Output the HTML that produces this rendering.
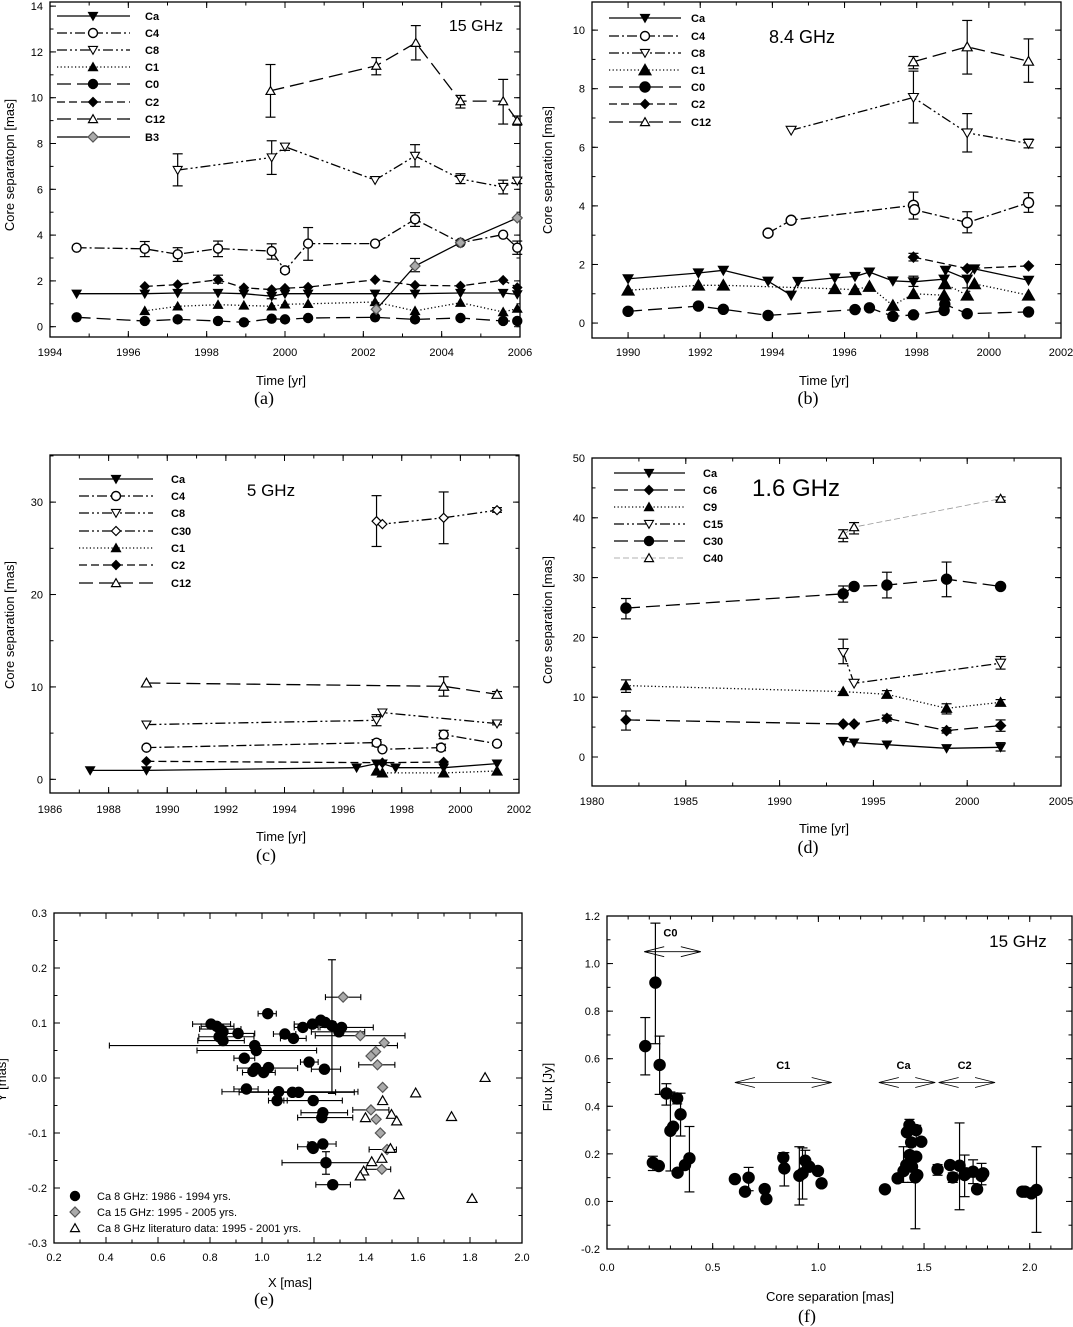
<!DOCTYPE html>
<html><head><meta charset="utf-8">
<style>
html,body{margin:0;padding:0;background:#fff;}
svg{display:block;font-family:"Liberation Sans",Arial,sans-serif;}
.tl{font-size:11px;fill:#000;}
.at{font-size:13px;fill:#000;}
.pl{font-family:"Liberation Serif",serif;font-size:18px;fill:#000;}
.lg{font-size:11px;font-weight:bold;fill:#000;}
</style></head>
<body>
<svg id="fig" width="1073" height="1327" viewBox="0 0 1073 1327">
<rect width="1073" height="1327" fill="#fff"/>
</svg>
<script>
// ---------- Panel (a) 15 GHz ----------
const aCa=[[1994.68,1.44],[1996.42,1.44],[1997.26,1.47],[1998.29,1.47],[1998.95,1.44],[1999.66,1.33,1.22,1.5],[2000.0,1.44],[2000.59,1.44],[2002.30,1.44],[2003.32,1.44],[2004.48,1.47],[2005.57,1.47],[2005.93,1.41]];
const aC4=[[1994.68,3.45],[1996.42,3.4,3.06,3.72],[1997.26,3.16,2.85,3.45],[1998.29,3.41,3.06,3.74],[1999.66,3.3,2.95,3.62],[2000.0,2.46,2.38,2.55],[2000.59,3.63,2.9,4.33],[2002.30,3.63],[2003.32,4.69,4.38,4.98],[2004.48,3.67],[2005.57,4.02],[2005.93,3.45,3.16,3.74]];
const aC8=[[1997.26,6.84,6.15,7.55],[1999.66,7.39,6.65,8.12],[2000.0,7.86,7.7,8.0],[2002.30,6.4],[2003.32,7.46,6.98,7.95],[2004.48,6.45,6.25,6.68],[2005.57,6.1,5.8,6.4],[2005.93,6.37,6.25,6.48]];
const aC1=[[1996.42,0.69],[1997.26,0.89],[1998.29,0.96],[1998.95,0.93],[1999.66,0.89],[2000.0,0.98],[2000.59,1.0],[2002.30,1.08],[2003.32,0.69],[2004.48,1.05],[2005.57,0.64],[2005.93,0.79]];
const aC0=[[1994.68,0.41],[1996.42,0.25],[1997.26,0.32],[1998.29,0.25],[1998.95,0.19],[1999.66,0.35],[2000.0,0.32],[2000.59,0.38],[2002.30,0.41],[2003.32,0.32],[2004.48,0.38],[2005.57,0.25],[2005.93,0.25]];
const aC2=[[1996.42,1.76],[1997.26,1.84],[1998.29,2.05,1.9,2.25],[1998.95,1.7],[1999.66,1.62],[2000.0,1.68],[2000.59,1.73],[2002.30,2.05],[2003.32,1.81],[2004.48,1.78],[2005.57,2.03],[2005.93,1.71]];
const aC12=[[1999.63,10.3,9.15,11.45],[2002.33,11.4,11.0,11.75],[2003.34,12.4,11.65,13.15],[2004.48,9.85,9.55,10.1],[2005.57,9.85,8.85,10.8],[2005.93,9.0,8.8,9.2]];
const aB3=[[2002.33,0.76],[2003.32,2.65,2.4,2.98],[2004.48,3.67],[2005.93,4.75]];
// ---------- Panel (b) 8.4 GHz ----------
const bCa=[[1990.0,1.51],[1991.95,1.71],[1992.64,1.8],[1993.88,1.43],[1994.52,0.95],[1994.71,1.42],[1995.73,1.54],[1996.29,1.59],[1996.69,1.74],[1997.34,1.44],[1997.91,1.41,1.25,1.6],[1998.76,1.5],[1998.8,1.8],[1999.4,1.5,1.2,1.6],[1999.6,1.85],[2001.1,1.46]];
const bC4=[[1993.88,3.07,2.98,3.15],[1994.52,3.51],[1997.91,4.02,3.55,4.47],[1997.94,3.87],[1999.4,3.43,3.08,3.8],[2001.1,4.11,3.78,4.45]];
const bC8=[[1994.52,6.58],[1997.91,7.7,6.83,8.6],[1999.4,6.49,5.84,7.15],[2001.1,6.13,5.98,6.28]];
const bC1=[[1990.0,1.12],[1991.95,1.29],[1992.64,1.29],[1995.73,1.17],[1996.29,1.14],[1996.69,1.25],[1997.34,0.6],[1997.91,1.0],[1998.76,0.95],[1998.78,1.34],[1999.4,0.95],[1999.6,1.34],[2001.1,0.95]];
const bC0=[[1990.0,0.4],[1991.95,0.58],[1992.64,0.47],[1993.88,0.26],[1996.29,0.46],[1996.69,0.52],[1997.34,0.23],[1997.91,0.28],[1998.76,0.43],[1998.78,0.64],[1999.4,0.32],[2001.1,0.38]];
const bC2=[[1997.91,2.25,2.12,2.38],[1999.4,1.86],[2001.1,1.95]];
const bC12=[[1997.91,8.92,8.68,9.1],[1999.4,9.43,8.5,10.33],[2001.1,8.94,8.22,9.7]];
// ---------- Panel (c) 5 GHz ----------
const cCa=[[1987.37,0.97],[1989.29,0.97],[1996.46,1.26],[1997.14,1.7],[1997.34,1.7],[1997.79,1.26],[1999.43,1.26],[2001.25,1.7]];
const cC4=[[1989.29,3.43],[1997.14,3.97,3.6,4.3],[1997.34,3.25],[1999.34,3.43,3.1,3.8],[1999.43,4.84,4.4,5.3],[2001.25,3.86,3.7,4.0]];
const cC8=[[1989.29,5.92],[1997.14,6.39,5.8,7.0],[1997.34,7.22],[2001.25,6.03,5.9,6.2]];
const cC30=[[1997.14,27.94,25.2,30.7],[1997.34,27.62],[1999.43,28.3,25.5,31.1],[2001.25,29.13,28.9,29.4]];
const cC1=[[1997.14,0.9],[1997.34,0.69],[1999.43,0.69],[2001.25,0.9]];
const cC2=[[1989.29,1.95],[1997.34,1.8],[1999.43,1.88]];
const cC12=[[1989.29,10.43],[1999.43,10.07,9.0,11.1],[2001.25,9.2,8.9,9.5]];
// ---------- Panel (d) 1.6 GHz ----------
const dCa=[[1993.39,2.68],[1993.97,2.4],[1995.72,2.06],[1998.9,1.45],[2001.78,1.62,1.0,2.4]];
const dC6=[[1981.81,6.2,4.5,7.7],[1993.39,5.52],[1993.97,5.52],[1995.72,6.47,6.0,7.0],[1998.9,4.41,4.0,4.9],[2001.78,5.25,4.3,6.2]];
const dC9=[[1981.81,11.94,10.8,12.9],[1993.39,10.94],[1995.72,10.49,9.9,11.1],[1998.9,8.15,7.2,8.9],[2001.78,9.15,8.7,9.6]];
const dC15=[[1993.39,17.47,15.6,19.7],[1993.97,12.33],[2001.78,15.68,14.7,16.8]];
const dC30=[[1981.81,24.9,23.1,26.5],[1993.39,27.29,25.9,28.6],[1993.97,28.52],[1995.72,28.74,26.6,30.9],[1998.9,29.74,26.8,32.6],[2001.78,28.52,28.2,28.8]];
const dC40=[[1993.39,37.17,36.0,38.0],[1993.97,38.45,37.3,39.2],[2001.78,43.2,42.9,43.5]];
// ---------- Panel (e) X/Y positions: [x, y, xlo, xhi] ----------
const eBlack=[[0.804,0.098,0.733,0.879],[0.826,0.094,0.766,0.892],[0.839,0.089,0.760,0.919],[0.85,0.084],[0.908,0.081,0.839,0.972],[0.835,0.075,0.757,0.969],[0.85,0.068,0.753,0.932],[1.022,0.117,0.985,1.055],[1.088,0.08,1.044,1.13],[1.121,0.072,1.071,1.17],[1.157,0.092,1.124,1.216],[1.194,0.098,1.124,1.283],[1.226,0.105],[1.243,0.101],[1.269,0.095],[1.296,0.084,1.19,1.395],[1.306,0.092,1.223,1.428],[0.972,0.059,0.413,1.521],[0.978,0.05,0.75,1.21],[0.932,0.036,0.892,0.972],[0.976,0.018,0.905,1.137],[0.965,0.012],[1.006,0.01,0.925,1.051],[1.025,0.019],[1.181,0.029,1.148,1.216],[1.24,0.016,1.19,1.302],[0.94,-0.02,0.892,0.985],[1.064,-0.025,0.846,1.369],[1.117,-0.026,0.912,1.355],[1.141,-0.026,1.025,1.283],[1.058,-0.041,1.025,1.097],[1.197,-0.041,1.084,1.309],[1.234,-0.063,1.15,1.329],[1.23,-0.072,1.137,1.349],[1.193,-0.125,1.137,1.243],[1.197,-0.128],[1.234,-0.12,1.177,1.285],[1.246,-0.154,1.077,1.422],[1.272,-0.194,1.207,1.34]];
const eBlackYerr=[[1.269,0.215,-0.028],[1.246,-0.134,-0.175]];
const eGray=[[1.312,0.147,1.244,1.38],[1.378,0.077,1.205,1.55],[1.47,0.064],[1.437,0.048],[1.419,0.04],[1.444,0.024,1.372,1.511],[1.464,-0.017],[1.419,-0.058,1.349,1.488],[1.439,-0.075],[1.455,-0.1],[1.481,-0.13,1.412,1.517],[1.461,-0.166,1.401,1.495]];
const eTri=[[1.858,0.001],[1.591,-0.027],[1.464,-0.041],[1.498,-0.066],[1.398,-0.072],[1.518,-0.078],[1.729,-0.07],[1.494,-0.128],[1.461,-0.146],[1.422,-0.152],[1.391,-0.169],[1.378,-0.178],[1.527,-0.212],[1.808,-0.219]];
// ---------- Panel (f) flux vs separation: [sep, flux, lo, hi] ----------
const fPts=[[0.181,0.653,0.532,0.773],[0.229,0.92,0.663,1.17],[0.249,0.574,0.45,0.695],[0.217,0.163,0.13,0.19],[0.245,0.149],[0.281,0.454,0.405,0.495],[0.3,0.297,0.128,0.46],[0.313,0.314],[0.332,0.433,0.41,0.455],[0.348,0.366,0.275,0.455],[0.334,0.121],[0.369,0.153],[0.39,0.181,0.04,0.315],
[0.605,0.094],[0.653,0.041],[0.67,0.1,0.045,0.143],[0.746,0.052],[0.754,0.01],[0.834,0.184,0.17,0.205],[0.839,0.139,0.065,0.205],[0.91,0.108,-0.015,0.23],[0.925,0.118,0.01,0.225],[0.938,0.171,0.13,0.215],[0.957,0.146],[0.998,0.128],[1.015,0.076],
[1.315,0.051],[1.375,0.097],[1.403,0.128,0.08,0.23],[1.416,0.153],[1.419,0.291],[1.431,0.321,0.3,0.345],[1.439,0.248,0.23,0.26],[1.432,0.195],[1.443,0.146,0.08,0.2],[1.459,0.101,-0.115,0.18],[1.463,0.188],[1.463,0.3,0.24,0.32],[1.468,0.111],[1.487,0.251],
[1.564,0.135,0.11,0.155],[1.623,0.153],[1.636,0.101,0.08,0.12],[1.668,0.15,-0.035,0.33],[1.692,0.111,0.02,0.195],[1.7,0.118],[1.732,0.125,0.075,0.175],[1.751,0.051],[1.772,0.107,0.07,0.16],[1.78,0.118],
[1.965,0.041],[1.978,0.041],[2.008,0.034],[2.032,0.048,-0.13,0.23]];
const fArrowNames=["C0","C1","Ca","C2"];
const fArrowFrom=[0.176,0.605,1.286,1.569];
const fArrowTo=[0.444,1.063,1.553,1.836];
const fArrowY=[1.05,0.5,0.5,0.5];
const fLabelX=[0.30,0.834,1.403,1.692];
const fLabelY=[1.13,0.574,0.574,0.574];

// ---------- drawing helpers ----------
const NS="http://www.w3.org/2000/svg";
const svg=document.getElementById('fig');
function el(tag,attrs,parent){const e=document.createElementNS(NS,tag);for(const k in attrs)e.setAttribute(k,attrs[k]);(parent||svg).appendChild(e);return e;}
function txt(s,x,y,cls,anchor,parent){const t=el('text',{x:x,y:y,class:cls,'text-anchor':anchor||'middle'},parent);t.textContent=s;return t;}
function range(a,b,s){const r=[];for(let v=a;v<=b+1e-9;v+=s)r.push(Math.round(v*1000)/1000);return r;}

const DASH={solid:'',dashdot:'10 3 2 3',dashdotdot:'10 3 2 3 2 3',dot:'1.2 2.4',longdash:'14 6',dash:'8 4',gray:'6 3'};

function marker(g,type,x,y,s){
  s=s||4.5;let e;
  if(type==='circ'||type==='circO'){e=el('circle',{cx:x,cy:y,r:s,fill:type==='circ'?'#000':'#fff',stroke:'#000','stroke-width':1.4},g);}
  else if(type==='dtri'||type==='dtriO'){e=el('polygon',{points:`${x-s},${y-s*0.8} ${x+s},${y-s*0.8} ${x},${y+s*0.95}`,fill:type==='dtri'?'#000':'#fff',stroke:'#000','stroke-width':1.1},g);}
  else if(type==='utri'||type==='utriO'){e=el('polygon',{points:`${x-s},${y+s*0.8} ${x+s},${y+s*0.8} ${x},${y-s*0.95}`,fill:type==='utri'?'#000':'#fff',stroke:'#000','stroke-width':1.2},g);}
  else {e=el('polygon',{points:`${x-s},${y} ${x},${y-s} ${x+s},${y} ${x},${y+s}`,fill:type==='diam'?'#000':(type==='diamG'?'#aaa':'#fff'),stroke:type==='diamG'?'#555':'#000','stroke-width':1.2},g);}
  return e;
}

function makePanel(p){
  const g=el('g',{});
  
  
  const sx=v=>p.L+(v-p.xmin)/(p.xmax-p.xmin)*(p.R-p.L);
  const sy=v=>p.B-(v-p.ymin)/(p.ymax-p.ymin)*(p.B-p.T);
  const frame=el('rect',{x:p.L,y:p.T,width:p.R-p.L,height:p.B-p.T,fill:'none',stroke:'#000','stroke-width':1.3},g);
  
  
  const tg=el('g',{stroke:'#000','stroke-width':1},g);
  p.xminor.forEach(v=>{const x=sx(v);if(x<p.L-0.5||x>p.R+0.5)return;el('line',{x1:x,x2:x,y1:p.B,y2:p.B-3.5},tg);el('line',{x1:x,x2:x,y1:p.T,y2:p.T+3.5},tg);});
  p.xmajor.forEach(v=>{const x=sx(v);el('line',{x1:x,x2:x,y1:p.B,y2:p.B-6},tg);el('line',{x1:x,x2:x,y1:p.T,y2:p.T+6},tg);});
  p.yminor.forEach(v=>{const y=sy(v);if(y<p.T-0.5||y>p.B+0.5)return;el('line',{x1:p.L,x2:p.L+3.5,y1:y,y2:y},tg);el('line',{x1:p.R,x2:p.R-3.5,y1:y,y2:y},tg);});
  p.ymajor.forEach(v=>{const y=sy(v);el('line',{x1:p.L,x2:p.L+6,y1:y,y2:y},tg);el('line',{x1:p.R,x2:p.R-6,y1:y,y2:y},tg);});
  const xl=el('g',{},g);
  
  
  p.xmajor.forEach((v,i)=>txt(p.xlab[i],sx(v),p.xLabY,'tl','middle',xl));
  const yl=el('g',{},g);
  
  
  p.ymajor.forEach((v,i)=>txt(p.ylab[i],p.L-7,sy(v)+4,'tl','end',yl));
  const xt=txt(p.xtitle,p.xtX,p.xtY,'at','middle',g);
  
  
  const yt=txt(p.ytitle,0,0,'at','middle',g);
  yt.setAttribute('transform',`translate(${p.ytX},${p.ytY}) rotate(-90)`);
  
  
  const pl=txt(p.letter,p.plX,p.plY,'pl','middle',g);
  
  
  return {g,sx,sy,p};
}

function series(P,name,pts,style,mk,ms,opt){
  opt=opt||{};
  const g=el('g',{},P.g);
  
  
  if(style){
    const d=pts.map((q,i)=>(i?'L':'M')+P.sx(q[0]).toFixed(1)+' '+P.sy(q[1]).toFixed(1)).join(' ');
    el('path',{d:d,fill:'none',stroke:opt.color||'#000','stroke-width':opt.w||1.3,'stroke-dasharray':DASH[style]},g);
  }
  pts.forEach(q=>{
    if(q.length>=4){
      const x=P.sx(q[0]),y1=P.sy(q[2]),y2=P.sy(q[3]);
      el('line',{x1:x,x2:x,y1:y1,y2:y2,stroke:'#000','stroke-width':1.2},g);
      el('line',{x1:x-5,x2:x+5,y1:y1,y2:y1,stroke:'#000','stroke-width':1.2},g);
      el('line',{x1:x-5,x2:x+5,y1:y2,y2:y2,stroke:'#000','stroke-width':1.2},g);
    }
  });
  pts.forEach(q=>{const m=marker(g,mk,P.sx(q[0]),P.sy(q[1]),ms);
    
    });
}

function legend(P,items,lx1,lx2,mx,tx,rows){
  const g=el('g',{},P.g);
  
  
  items.forEach((it,i)=>{
    const y=rows[i];
    const e=el('g',{},g);
    
    
    el('line',{x1:lx1,x2:lx2,y1:y,y2:y,stroke:it[3]||'#000','stroke-width':it[3]?0.8:1.3,'stroke-dasharray':DASH[it[1]]},e);
    marker(e,it[2],mx,y,it[4]||4.5);
    txt(it[0],tx,y+4,'lg','start',e);
  });
}

// ---------- Panel a ----------
const A=makePanel({name:'panel-a-15ghz',L:50,R:520,T:2,B:337,xmin:1994,xmax:2006,ymin:-0.45,ymax:14.18,
 xmajor:range(1994,2006,2),xminor:range(1994,2006,1),xlab:range(1994,2006,2).map(String),
 ymajor:range(0,14,2),yminor:range(0,14,1),ylab:range(0,14,2).map(String),
 xLabY:356,xtitle:'Time [yr]',xtX:281,xtY:385,ytitle:'Core separatopn [mas]',ytX:14,ytY:165,letter:'(a)',plX:264,plY:404});
series(A,'c12',aC12,'longdash','utriO',4.5);
series(A,'c8',aC8,'dashdotdot','dtriO',4.5);
series(A,'c4',aC4,'dashdot','circO',4.5);
series(A,'c2',aC2,'dash','diam',4.5);
series(A,'ca',aCa,'solid','dtri',4.5);
series(A,'c1',aC1,'dot','utri',4.5);
series(A,'c0',aC0,'longdash','circ',4.5);
series(A,'b3',aB3,'solid','diamG',5);
legend(A,[['Ca','solid','dtri'],['C4','dashdot','circO'],['C8','dashdotdot','dtriO'],['C1','dot','utri'],['C0','longdash','circ'],['C2','dash','diam'],['C12','longdash','utriO'],['B3','solid','diamG',null,5]],57,130,93,145,[16,33,50,67,84,102,119,137]);
const ga=txt('15 GHz',476,31,'at','middle',A.g);ga.setAttribute('style','font-size:16px');



// ---------- Panel b ----------
const B=makePanel({name:'panel-b-8ghz',L:592,R:1061,T:2,B:338,xmin:1989,xmax:2002,ymin:-0.51,ymax:10.96,
 xmajor:range(1990,2002,2),xminor:range(1989,2002,1),xlab:range(1990,2002,2).map(String),
 ymajor:range(0,10,2),yminor:range(0,10,1),ylab:range(0,10,2).map(String),
 xLabY:356,xtitle:'Time [yr]',xtX:824,xtY:385,ytitle:'Core separation [mas]',ytX:552,ytY:170,letter:'(b)',plX:808,plY:404});
series(B,'c12',bC12,'longdash','utriO',5);
series(B,'c8',bC8,'dashdotdot','dtriO',5);
series(B,'c4',bC4,'dashdot','circO',5);
series(B,'c2',bC2,'dash','diam',5);
series(B,'ca',bCa,'solid','dtri',5);
series(B,'c1',bC1,'dot','utri',6);
series(B,'c0',bC0,'longdash','circ',5);
legend(B,[['Ca','solid','dtri'],['C4','dashdot','circO'],['C8','dashdotdot','dtriO'],['C1','dot','utri',null,6],['C0','longdash','circ',null,5],['C2','dash','diam'],['C12','longdash','utriO']],609,681,645,691,[18,36,53,70,87,104,122]);
const gb=txt('8.4 GHz',802,43,'at','middle',B.g);gb.setAttribute('style','font-size:18px');



// ---------- Panel c ----------
const C=makePanel({name:'panel-c-5ghz',L:50,R:519,T:455,B:793,xmin:1986,xmax:2002,ymin:-1.48,ymax:35.1,
 xmajor:range(1986,2002,2),xminor:range(1986,2002,1),xlab:range(1986,2002,2).map(String),
 ymajor:range(0,30,10),yminor:range(0,35,5),ylab:range(0,30,10).map(String),
 xLabY:813,xtitle:'Time [yr]',xtX:281,xtY:841,ytitle:'Core separation [mas]',ytX:14,ytY:625,letter:'(c)',plX:266,plY:861});
series(C,'c30',cC30,'dashdotdot','diamO',4.5);
series(C,'c12',cC12,'longdash','utriO',5);
series(C,'c8',cC8,'dashdotdot','dtriO',4.5);
series(C,'c4',cC4,'dashdot','circO',4.5);
series(C,'c2',cC2,'dash','diam',4.5);
series(C,'ca',cCa,'solid','dtri',4.5);
series(C,'c1',cC1,'dot','utri',5);
legend(C,[['Ca','solid','dtri'],['C4','dashdot','circO'],['C8','dashdotdot','dtriO'],['C30','dashdotdot','diamO'],['C1','dot','utri'],['C2','dash','diam'],['C12','longdash','utriO']],79,153,116,171,[479,496,513,531,548,565,583]);
const gc=txt('5 GHz',271,496,'at','middle',C.g);gc.setAttribute('style','font-size:17px');



// ---------- Panel d ----------
const D=makePanel({name:'panel-d-1.6ghz',L:592,R:1061,T:458,B:786,xmin:1980,xmax:2005,ymin:-4.85,ymax:50,
 xmajor:range(1980,2005,5),xminor:range(1980,2005,2.5),xlab:range(1980,2005,5).map(String),
 ymajor:range(0,50,10),yminor:range(-0,50,5),ylab:range(0,50,10).map(String),
 xLabY:805,xtitle:'Time [yr]',xtX:824,xtY:833,ytitle:'Core separation [mas]',ytX:552,ytY:620,letter:'(d)',plX:808,plY:853});
series(D,'c40',dC40,'gray','utriO',4.5,{color:'#999',w:0.8});
series(D,'c30',dC30,'longdash','circ',5);
series(D,'c15',dC15,'dashdotdot','dtriO',5);
series(D,'c9',dC9,'dot','utri',5);
series(D,'c6',dC6,'longdash','diam',5);
series(D,'ca',dCa,'solid','dtri',4.5);
legend(D,[['Ca','solid','dtri'],['C6','longdash','diam'],['C9','dot','utri'],['C15','dashdotdot','dtriO'],['C30','longdash','circ'],['C40','gray','utriO','#999']],614,685,649,703,[473,490,507,524,541,558]);
const gd=txt('1.6 GHz',796,496,'at','middle',D.g);gd.setAttribute('style','font-size:24px');



// ---------- Panel e ----------
const E=makePanel({name:'panel-e-ca-position',L:54,R:522,T:913,B:1243,xmin:0.2,xmax:2.0,ymin:-0.3,ymax:0.3,
 xmajor:range(0.2,2.0,0.2),xminor:range(0.2,2.0,0.1),xlab:range(0.2,2.0,0.2).map(v=>v.toFixed(1)),
 ymajor:range(-0.3,0.3,0.1),yminor:range(-0.3,0.3,0.05),ylab:range(-0.3,0.3,0.1).map(v=>v.toFixed(1)),
 xLabY:1261,xtitle:'X [mas]',xtX:290,xtY:1287,ytitle:'Y [mas]',ytX:6,ytY:1080,letter:'(e)',plX:264,plY:1305});
function xerrSeries(P,name,pts,mk,ms){
  const g=el('g',{},P.g);
  
  
  pts.forEach(q=>{if(q.length>=4){const y=P.sy(q[1]),x1=P.sx(q[2]),x2=P.sx(q[3]);
    el('line',{x1:x1,x2:x2,y1:y,y2:y,stroke:'#000','stroke-width':1.1},g);
    el('line',{x1:x1,x2:x1,y1:y-3,y2:y+3,stroke:'#000','stroke-width':1.1},g);
    el('line',{x1:x2,x2:x2,y1:y-3,y2:y+3,stroke:'#000','stroke-width':1.1},g);}});
  pts.forEach(q=>{const m=marker(g,mk,P.sx(q[0]),P.sy(q[1]),ms);
    
    });
  return g;
}
const eb=xerrSeries(E,'ca-8ghz',eBlack,'circ',5);
eBlackYerr.forEach(q=>{const x=E.sx(q[0]),y1=E.sy(q[1]),y2=E.sy(q[2]);
  el('line',{x1:x,x2:x,y1:y1,y2:y2,stroke:'#000','stroke-width':1.2},eb);
  el('line',{x1:x-4,x2:x+4,y1:y1,y2:y1,stroke:'#000','stroke-width':1.2},eb);
  el('line',{x1:x-4,x2:x+4,y1:y2,y2:y2,stroke:'#000','stroke-width':1.2},eb);});
xerrSeries(E,'ca-15ghz',eGray,'diamG',5);
xerrSeries(E,'ca-8ghz-literature',eTri,'utriO',5);
legend(E,[['Ca 8 GHz: 1986 - 1994 yrs.',null,'circ',null,4.5],['Ca 15 GHz: 1995 - 2005 yrs.',null,'diamG',null,5],['Ca 8 GHz literature data: 1995 - 2001 yrs.',null,'utriO',null,4.5]],75,75,75,97,[1196,1212,1228]);
E.g.querySelectorAll('.lg').forEach(t=>{t.setAttribute('class','tl');});
// fix literal legend text
E.g.querySelectorAll('.tl').forEach(t=>{if(t.textContent.indexOf('literature')>=0)t.textContent='Ca 8 GHz literaturo data: 1995 - 2001 yrs.';});

// ---------- Panel f ----------
const F=makePanel({name:'panel-f-flux',L:607,R:1072,T:916,B:1249,xmin:0,xmax:2.2,ymin:-0.2,ymax:1.2,
 xmajor:range(0,2.0,0.5),xminor:range(0,2.2,0.1),xlab:range(0,2.0,0.5).map(v=>v.toFixed(1)),
 ymajor:range(-0.2,1.2,0.2),yminor:range(-0.2,1.2,0.1),ylab:range(-0.2,1.2,0.2).map(v=>v.toFixed(1)),
 xLabY:1271,xtitle:'Core separation [mas]',xtX:830,xtY:1301,ytitle:'Flux [Jy]',ytX:552,ytY:1087,letter:'(f)',plX:807,plY:1322});
series(F,'flux',fPts,null,'circ',5.5);
fArrowNames.forEach((n,i)=>{
  const g=el('g',{},F.g);
  
  
  const x1=F.sx(fArrowFrom[i]),x2=F.sx(fArrowTo[i]),y=F.sy(fArrowY[i]);
  el('path',{d:`M${x1} ${y} L${x2} ${y} M${x1+20} ${y-5} L${x1} ${y} L${x1+20} ${y+5} M${x2-20} ${y-5} L${x2} ${y} L${x2-20} ${y+5}`,fill:'none',stroke:'#000','stroke-width':0.8},g);
  txt(n,F.sx(fLabelX[i]),F.sy(fLabelY[i])+4,'lg','middle',g);
});
const gf=txt('15 GHz',1018,947,'at','middle',F.g);gf.setAttribute('style','font-size:17px');


</script>
</body></html>
